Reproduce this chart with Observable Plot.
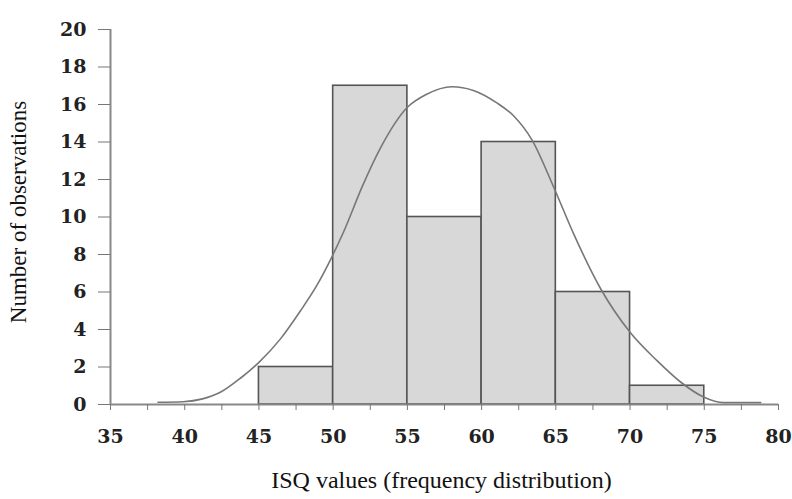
<!DOCTYPE html>
<html>
<head>
<meta charset="utf-8">
<script src="https://cdn.jsdelivr.net/npm/d3@7"></script>
<script src="https://cdn.jsdelivr.net/npm/@observablehq/plot@0.6"></script>
<style>
  html, body { margin: 0; padding: 0; background: #fff; }
  #chart { width: 792px; height: 499px; }
</style>
</head>
<body>
<div id="chart"></div>
<script>
// Histogram bins (ISQ values) and counts
const binStart = [45, 50, 55, 60, 65, 70];
const binEnd   = [50, 55, 60, 65, 70, 75];
const counts   = [2, 17, 10, 14, 6, 1];

// Fitted distribution curve
const curveX = [38.2, 39.9, 41.2, 42.4, 43.75, 45, 46.45, 47.8, 48.9, 49.9, 50.7, 52.0, 53.2, 55, 56.3, 58, 59.45, 61, 62.15, 63.4, 64.85, 66.2, 68, 70, 71.8, 73.4, 74.95, 76.3, 78.8];
const curveY = [0.12, 0.15, 0.3, 0.65, 1.4, 2.25, 3.5, 5.0, 6.35, 7.85, 9.2, 11.7, 13.7, 15.85, 16.55, 16.95, 16.75, 16.1, 15.4, 14.1, 11.6, 9.1, 6.2, 3.85, 2.35, 1.2, 0.4, 0.1, 0.1];

// Tick values
const xTicks = d3.range(35, 80.01, 2.5);
const yTicks = [0, 2, 4, 6, 8, 10, 12, 14, 16, 18, 20];

const bars = binStart.map((s, i) => ({x1: s, x2: binEnd[i], y: counts[i]}));
const curve = curveX.map((x, i) => ({x, y: curveY[i]}));

const chart = Plot.plot({
  width: 792,
  height: 499,
  marginLeft: 110,
  marginRight: 14,
  marginTop: 29,
  marginBottom: 95,
  style: {background: "#fff", color: "#222"},
  x: {domain: [35, 80]},
  y: {domain: [0, 20]},
  marks: [
    Plot.rectY(bars, {x1: "x1", x2: "x2", y: "y", fill: "#d8d8d8", stroke: "#555", strokeWidth: 1.6}),
    Plot.line(curve, {x: "x", y: "y", curve: "monotone-x", stroke: "#777", strokeWidth: 1.6}),
    Plot.ruleY([0], {stroke: "#888", strokeWidth: 2}),
    Plot.ruleX([35], {stroke: "#888", strokeWidth: 2}),
    Plot.axisX({ticks: xTicks, tickSize: 6, tickPadding: 19, stroke: "#777",
      tickFormat: d => (d % 5 === 0 ? String(d) : ""), label: null,
      fontSize: 19, fontWeight: "bold", fontFamily: "DejaVu Serif, serif", fill: "#222"}),
    Plot.axisY({ticks: yTicks, tickSize: 12, tickPadding: 12, stroke: "#777",
      tickFormat: d => String(d), label: null,
      fontSize: 19, fontWeight: "bold", fontFamily: "DejaVu Serif, serif", fill: "#222"}),
    Plot.text(["Number of observations"], {frameAnchor: "left", dx: -92, dy: -5, rotate: -90,
      textAnchor: "middle", lineAnchor: "middle",
      fontSize: 23, fontFamily: "Liberation Serif, Times New Roman, serif", fill: "#111"}),
    Plot.text(["ISQ values (frequency distribution)"], {frameAnchor: "bottom", dy: 76, dx: -3,
      textAnchor: "middle", lineAnchor: "middle",
      fontSize: 24, fontFamily: "Liberation Serif, Times New Roman, serif", fill: "#111"})
  ]
});
document.getElementById("chart").appendChild(chart);
</script>
</body>
</html>
